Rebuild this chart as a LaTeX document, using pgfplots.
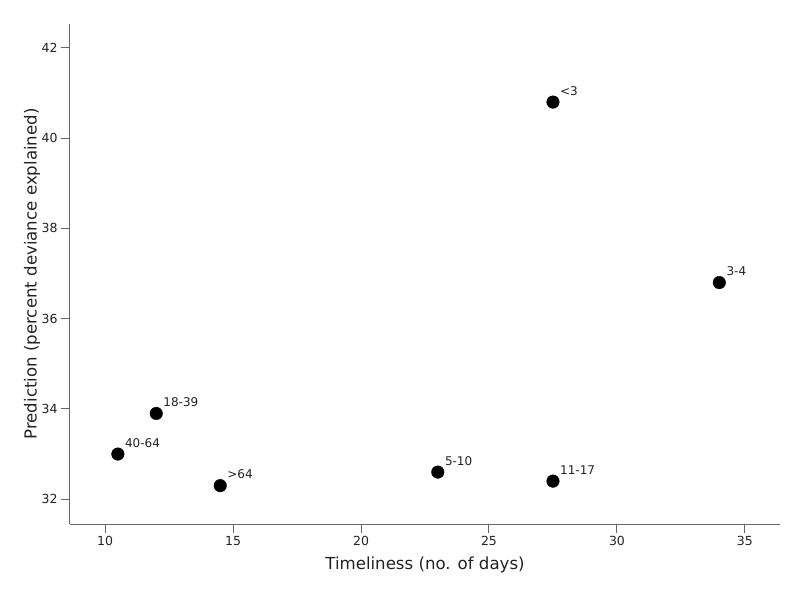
\documentclass[border=0pt]{standalone}
\usepackage{pgfplots}
\pgfplotsset{compat=1.18}
\usepackage{pgfplotstable}
\usepackage{fontspec}
\setmainfont{DejaVu Sans}
\definecolor{axisgray}{HTML}{666666}
\definecolor{txt}{HTML}{222222}
\pgfplotstableread{
x y lab
27.5 40.8 {<3}
34.0 36.8 {3-4}
23.0 32.6 {5-10}
27.5 32.4 {11-17}
12.0 33.9 {18-39}
10.5 33.0 {40-64}
14.5 32.3 {>64}
}\pts
\begin{document}
\begin{tikzpicture}
\path[use as bounding box] (-70pt,-73pt) rectangle (730pt,524pt);
\begin{axis}[
  scale only axis, width=710pt, height=500pt,
  at={(0,0)}, anchor=south west,
  xmin=8.63, xmax=36.37, ymin=31.45, ymax=42.53,
  axis x line*=bottom, axis y line*=left,
  axis line style={axisgray, line width=1pt, -},
  tick align=outside,
  major tick length=9pt,
  tick style={axisgray, line width=1pt},
  xtick={10,15,...,35}, ytick={32,34,...,42},
  /pgf/number format/assume math mode=true,
  ticklabel style={font=\fontsize{12.5}{15}\selectfont, text=txt},
  xlabel={Timeliness (no. of days)},
  ylabel={Prediction (percent deviance explained)},
  label style={font=\fontsize{16.6}{20}\selectfont, text=txt},
  xlabel style={at={(axis description cs:0.5,-0.082)}, anchor=center},
  ylabel style={at={(axis description cs:-0.0535,0.5)}, anchor=center},
  clip=false,
]
\addplot[only marks, mark=*, mark size=6.3pt, mark options={fill=black, draw=black},
  nodes near coords, point meta=explicit symbolic,
  every node near coord/.style={anchor=base west, inner sep=0pt, xshift=7pt, yshift=7pt,
    font=\fontsize{12}{14}\selectfont, text=txt}]
  table[x=x, y=y, meta=lab] {\pts};
\end{axis}
\end{tikzpicture}
\end{document}
